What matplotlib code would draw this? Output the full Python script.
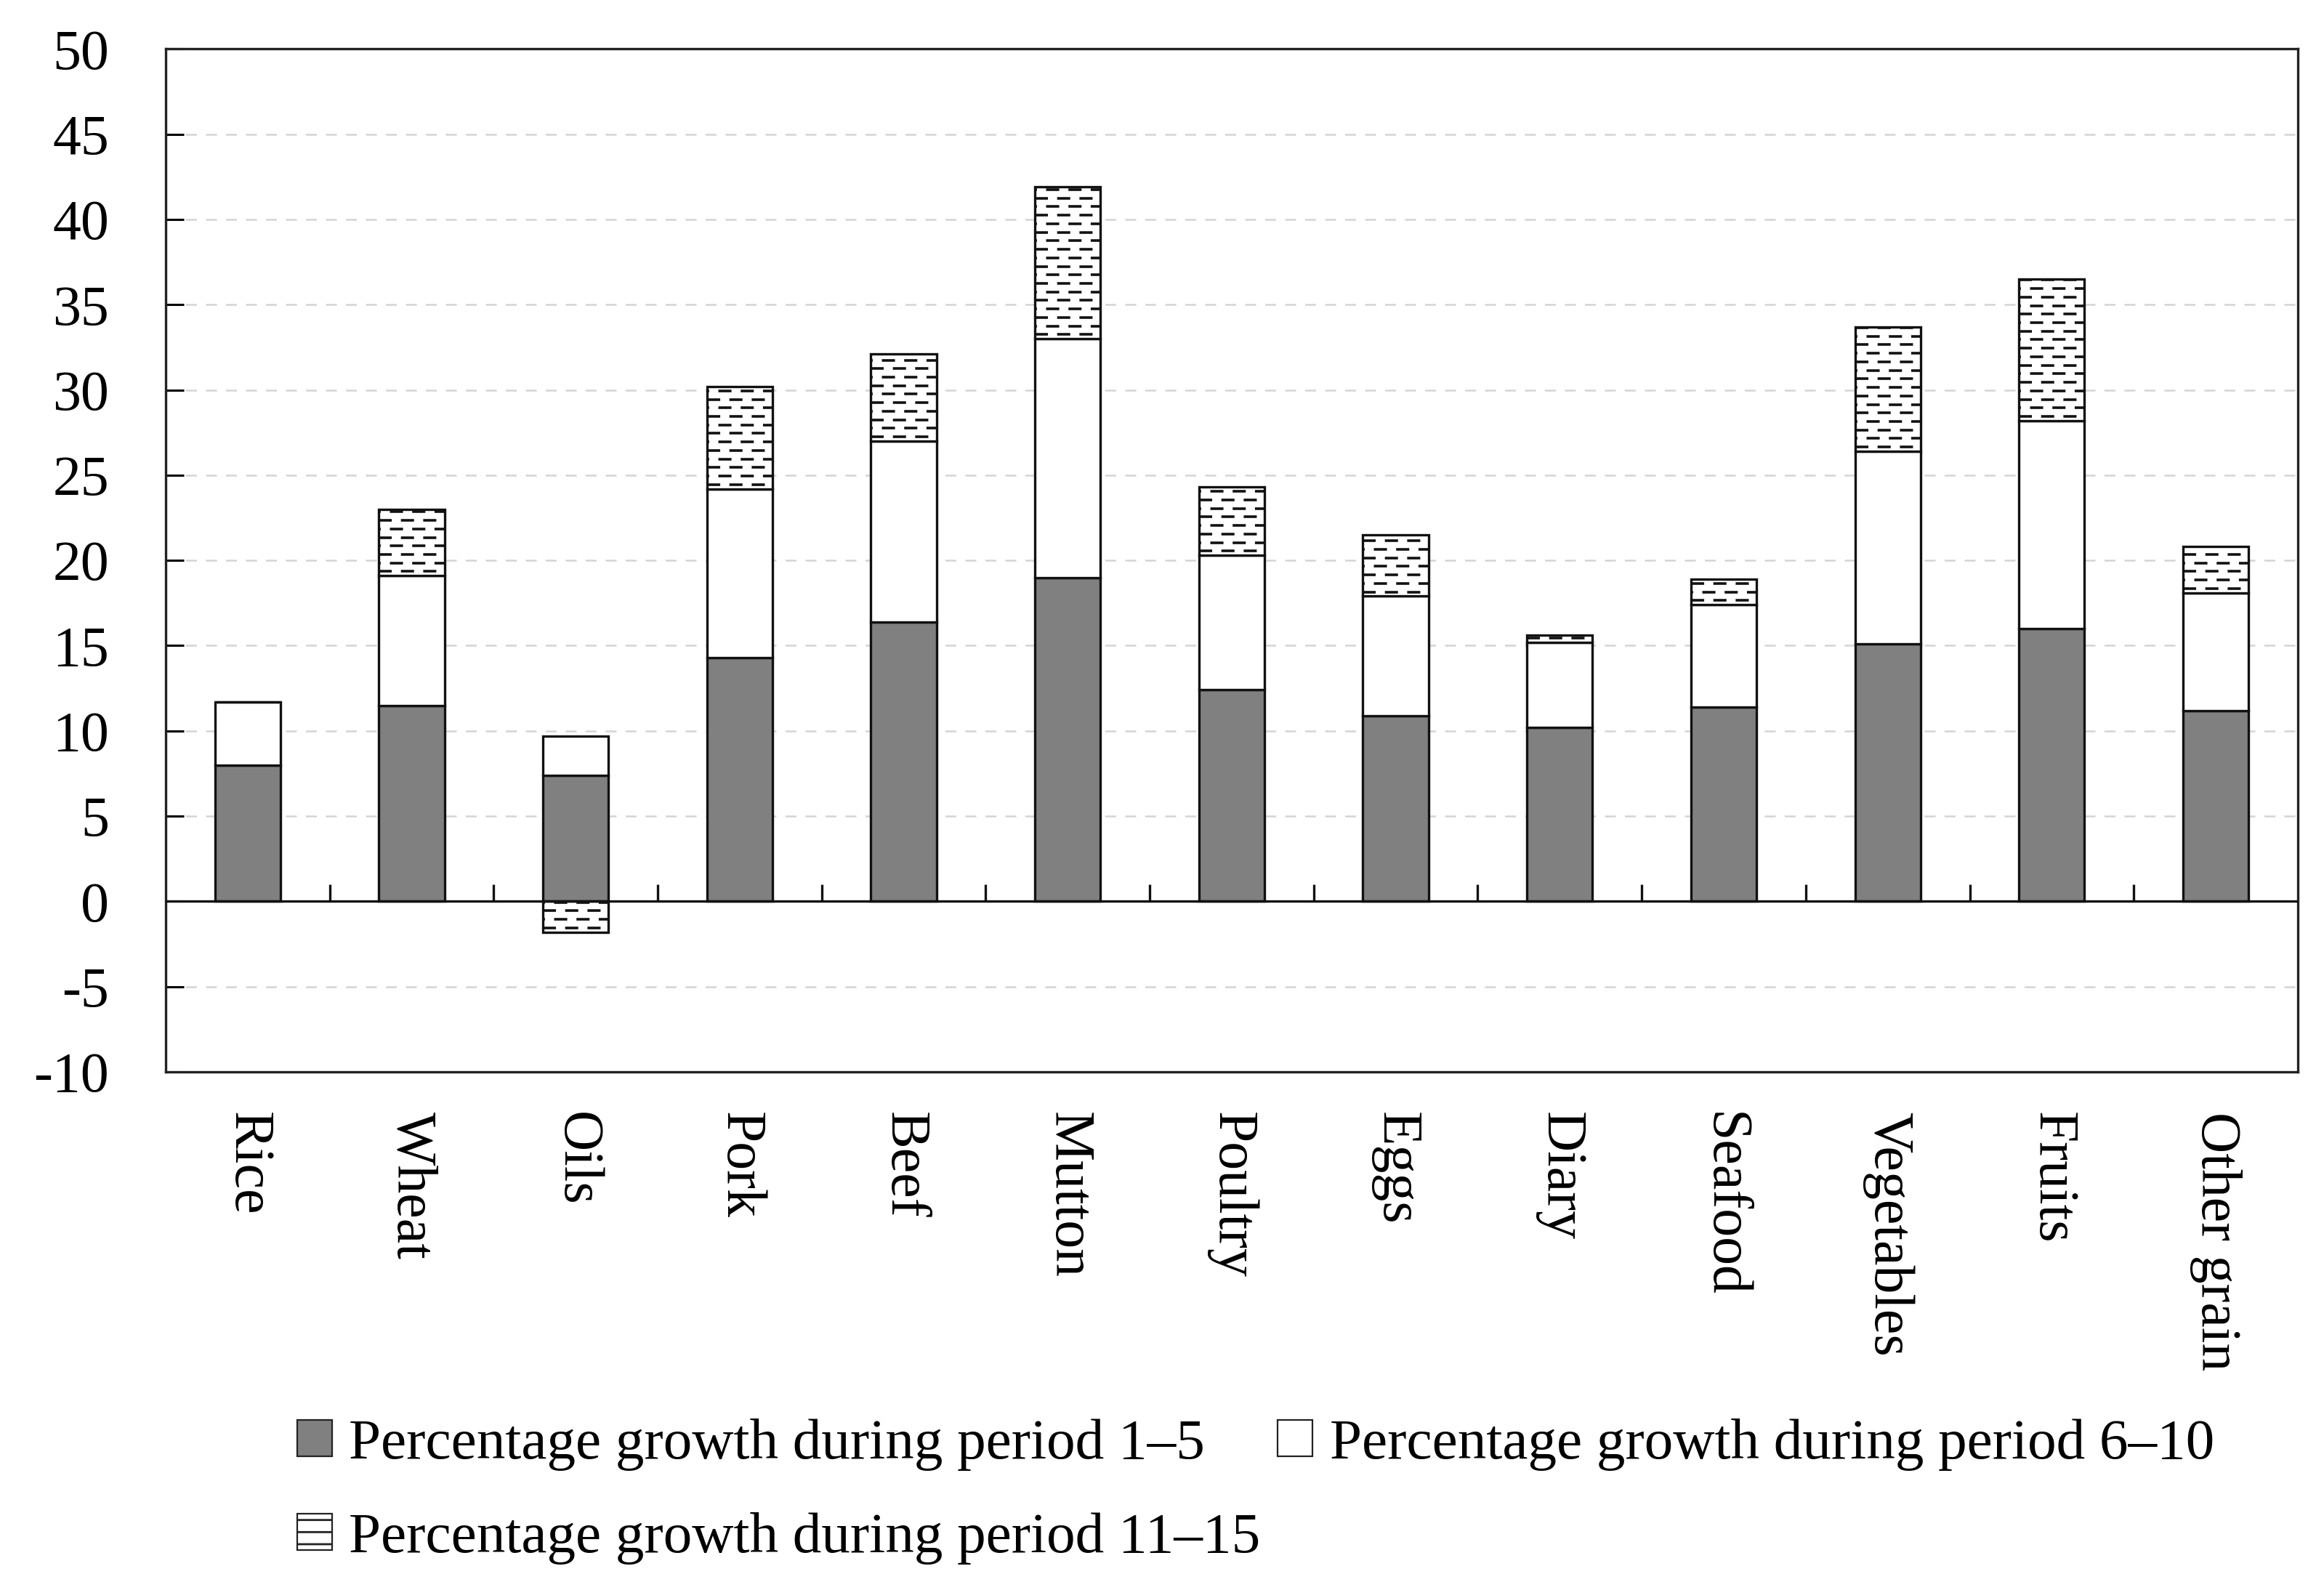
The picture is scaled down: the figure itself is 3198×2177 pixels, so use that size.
import numpy as np
import matplotlib
matplotlib.use('Agg')
import matplotlib.pyplot as plt
from matplotlib.patches import Patch

plt.rcParams.update({
    'font.family': ['Liberation Serif', 'DejaVu Serif'],
    'font.size': 28,
    'axes.edgecolor': '#222',
    'axes.linewidth': 1.2,
})

categories = ['Rice', 'Wheat', 'Oils', 'Pork', 'Beef', 'Mutton', 'Poultry',
              'Eggs', 'Diary', 'Seafood', 'Vegetables', 'Fruits', 'Other grain']
growth_1_5 = [8.0, 11.5, 7.4, 14.3, 16.4, 19.0, 12.4, 10.9, 10.2, 11.4, 15.1, 16.0, 11.2]
growth_6_10 = [3.7, 7.6, 2.3, 9.9, 10.6, 14.0, 7.9, 7.0, 5.0, 6.0, 11.3, 12.2, 6.9]
growth_11_15 = [0.0, 3.9, -1.8, 6.0, 5.1, 8.9, 4.0, 3.6, 0.4, 1.5, 7.3, 8.3, 2.7]
legend_labels = ['Percentage growth during period 1\u20135',
                 'Percentage growth during period 6\u201310',
                 'Percentage growth during period 11\u201315']

DARK = '#808080'
BAR_W = 0.40

fig = plt.figure(figsize=(15.99, 10.885), dpi=200)
ax = fig.add_axes([0.0713, 0.3225, 0.9174, 0.6465])

x = np.arange(len(categories))
s1 = np.array(growth_1_5)
s2 = np.array(growth_6_10)
s3 = np.array(growth_11_15)

ax.bar(x, s1, BAR_W, color=DARK, edgecolor='#111', linewidth=1.2, zorder=3)
ax.bar(x, s2, BAR_W, bottom=s1, color='white', edgecolor='#111',
       linewidth=1.2, zorder=3)
# third period: positive values stack on top, negative go below zero
bottom3 = np.where(s3 >= 0, s1 + s2, 0.0)
bars3 = ax.bar(x, s3, BAR_W, bottom=bottom3, color='white', edgecolor='#111',
               linewidth=1.2, zorder=3)

# staggered dashed hatch inside the third segments
row_step = 0.5
for i, patch in enumerate(bars3):
    lo = min(bottom3[i], bottom3[i] + s3[i])
    hi = max(bottom3[i], bottom3[i] + s3[i])
    if hi - lo < 0.05:
        continue
    ys = np.arange(lo + row_step / 2, hi, row_step)
    for k, yv in enumerate(ys):
        style = (0, (5, 3.5)) if k % 2 == 0 else (4.2, (5, 3.5))
        ln, = ax.plot([x[i] - BAR_W / 2, x[i] + BAR_W / 2], [yv, yv],
                      color='#111', linewidth=1.3, zorder=4,
                      linestyle=style, dash_capstyle='butt')
        ln.set_clip_path(patch)

ax.axhline(0, color='#111', linewidth=1.2, zorder=5)
# small separators between categories at the zero line
bounds = x[:-1] + 0.5
ax.vlines(bounds, 0, 1.0, color='#111', linewidth=1.2, zorder=5)

ax.set_xlim(-0.5, len(categories) - 0.5)
ax.set_ylim(-10, 50)
ax.set_yticks(np.arange(-10, 51, 5))
ax.set_yticklabels([str(v) for v in range(-10, 51, 5)])
ax.tick_params(axis='y', direction='in', length=9, width=1.1, pad=28,
               labelsize=28)
ax.set_xticks(x)
ax.set_xticklabels(categories, rotation=-90, va='top', ha='center')
ax.tick_params(axis='x', length=0, pad=20, labelsize=28)

for v in np.arange(-5, 50, 5):
    if v == 0:
        continue
    ax.axhline(v, color='#d4d4d4', linewidth=0.9, linestyle=(0, (6, 5)),
               zorder=1)

handles = [
    Patch(facecolor=DARK, edgecolor='#222', linewidth=0.8),
    Patch(facecolor='white', edgecolor='#222', linewidth=0.8),
    Patch(facecolor='white', edgecolor='#222', linewidth=0.8, hatch='--'),
]
order = [0, 2, 1]
fig.legend([handles[i] for i in order], [legend_labels[i] for i in order],
           loc='upper left', bbox_to_anchor=(0.118, 0.118),
           bbox_transform=fig.transFigure, ncol=2, frameon=False,
           fontsize=28.5, handlelength=0.6, handleheight=0.6,
           handletextpad=0.3, columnspacing=0.3, labelspacing=0.72,
           borderaxespad=0)

fig.savefig('out.png', dpi=200, facecolor='white')
